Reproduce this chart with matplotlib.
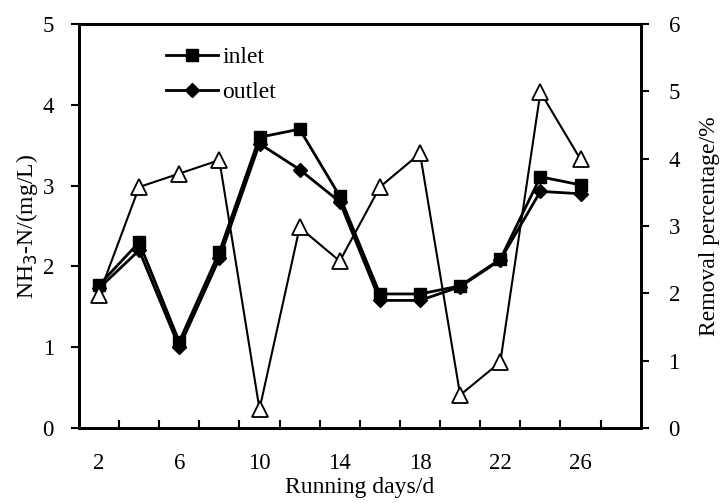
import matplotlib
matplotlib.use("Agg")
import matplotlib.pyplot as plt

days = [2, 4, 6, 8, 10, 12, 14, 16, 18, 20, 22, 24, 26]
inlet = [1.77, 2.30, 1.07, 2.18, 3.60, 3.70, 2.87, 1.66, 1.66, 1.76, 2.09, 3.11, 3.01]
outlet = [1.73, 2.20, 1.00, 2.10, 3.52, 3.20, 2.80, 1.58, 1.58, 1.75, 2.08, 2.93, 2.90]
removal = [1.98, 3.58, 3.78, 3.98, 0.28, 2.98, 2.48, 3.58, 4.08, 0.49, 0.98, 4.99, 3.99]
xtick_labels = [2, 6, 10, 14, 18, 22, 26]

plt.rcParams['font.family'] = ['Liberation Serif', 'DejaVu Serif']
plt.rcParams['font.size'] = 17

fig = plt.figure(figsize=(7.24, 5.03), dpi=100)
ax = fig.add_axes([0.109, 0.149, 0.776, 0.803])
ax2 = ax.twinx()

ax.plot(days, inlet, color='black', lw=2, marker='s', markersize=9, label='inlet', zorder=3)
ax.plot(days, outlet, color='black', lw=2, marker='D', markersize=7.5, label='outlet', zorder=3)
ax2.plot(days, removal, color='black', lw=1.5, marker='^', markersize=11.5,
         markerfacecolor='white', markeredgecolor='black', markeredgewidth=1.3)

ax.set_xlim(1, 29)
ax.set_ylim(0, 5)
ax2.set_ylim(0, 6)
ax.set_xticks(xtick_labels)
ax.set_xticks(list(range(3, 29, 2)), minor=True)
ax.tick_params(axis='x', which='major', length=0, pad=18, labelsize=16.5)
ax.tick_params(axis='x', which='minor', direction='in', length=6, width=1.5)
ax.set_yticks([0, 1, 2, 3, 4, 5])
ax2.set_yticks([0, 1, 2, 3, 4, 5, 6])
ax.tick_params(axis='y', direction='out', length=6, width=1.5, pad=12, labelsize=16.5)
ax2.tick_params(axis='y', direction='out', length=6, width=1.5, pad=14, labelsize=16.5)

for a in (ax, ax2):
    for s in a.spines.values():
        s.set_linewidth(2)

ax.set_xlabel('Running days/d', labelpad=2)
ax.set_ylabel('NH$_3$-N/(mg/L)', labelpad=2)
ax2.set_ylabel('Removal percentage/%', labelpad=14)

ax.legend(loc='upper left', bbox_to_anchor=(0.125, 0.985), frameon=False,
          handlelength=2.2, handletextpad=0.2, labelspacing=0.55, borderaxespad=0.3)

fig.savefig('out.png', dpi=100)
